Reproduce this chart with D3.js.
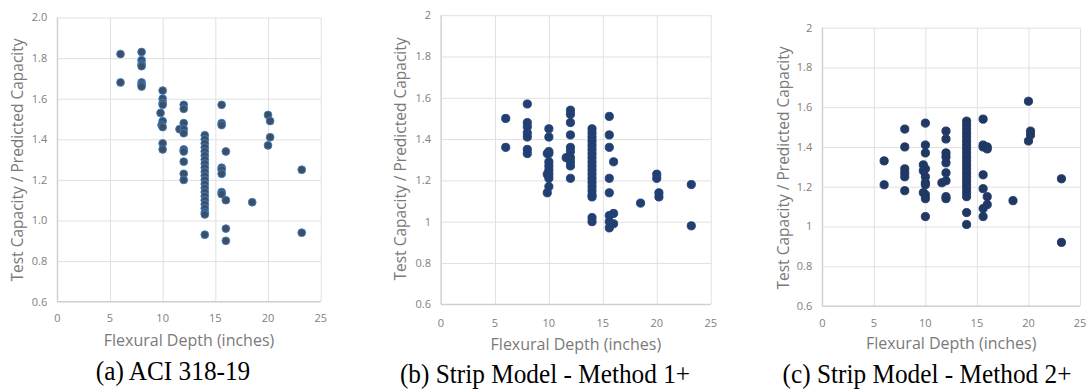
<!DOCTYPE html>
<html>
<head>
<meta charset="utf-8">
<script src="https://cdn.jsdelivr.net/npm/d3@7"></script>
<style>
  body { margin: 0; background: #fff; }
  svg { display: block; }
</style>
</head>
<body>
<div id="chart"></div>
<script>
// tick labels
const xTicks = [0, 5, 10, 15, 20, 25];
const yTicks = [0.6, 0.8, 1.0, 1.2, 1.4, 1.6, 1.8, 2.0];
const captions = ['(a) ACI 318-19', '(b) Strip Model - Method 1+', '(c) Strip Model - Method 2+'];
const xTitle = 'Flexural Depth (inches)';
const yTitle = 'Test Capacity / Predicted Capacity';

// (a) ACI 318-19
const aciDepth = [6, 6,
  8, 8, 8, 8, 8, 8, 8,
  10, 10, 10, 10, 9.8, 10, 9.9, 10, 10, 10,
  11.6,
  12, 12, 12, 12, 12, 12, 12, 12, 12, 12,
  14, 14, 14, 14, 14, 14, 14, 14, 14, 14, 14, 14, 14, 14, 14, 14, 14, 14, 14, 14, 14, 14,
  15.6, 15.6, 15.6, 15.6, 15.6, 15.6, 15.6, 15.6,
  16, 16, 16, 16,
  18.5,
  20, 20, 20.2, 20.2,
  23.2, 23.2];
const aciRatio = [1.82, 1.68,
  1.83, 1.79, 1.77, 1.76, 1.68, 1.67, 1.66,
  1.64, 1.60, 1.58, 1.57, 1.53, 1.49, 1.47, 1.46, 1.38, 1.35,
  1.45,
  1.57, 1.55, 1.48, 1.45, 1.43, 1.35, 1.34, 1.29, 1.23, 1.20,
  1.42, 1.40, 1.38, 1.36, 1.34, 1.32, 1.30, 1.28, 1.26, 1.24, 1.22, 1.20, 1.18, 1.16, 1.14, 1.12, 1.10, 1.08, 1.06, 1.04, 1.03, 0.93,
  1.57, 1.48, 1.47, 1.26, 1.25, 1.23, 1.14, 1.13,
  1.34, 1.10, 0.96, 0.90,
  1.09,
  1.52, 1.37, 1.49, 1.41,
  1.25, 0.94];

// (b) Strip Model - Method 1+
const m1Depth = [6, 6,
  8, 8, 8, 8, 8, 8, 8,
  10, 10, 10, 10, 10, 10, 10, 10, 10, 10, 9.85, 9.85, 9.85,
  11.6,
  12, 12, 12, 12, 12, 12, 12, 12, 12, 12,
  14, 14, 14, 14, 14, 14, 14, 14, 14, 14, 14, 14, 14, 14, 14, 14, 14, 14, 14, 14,
  15.6, 15.6, 15.6, 15.6, 15.6, 15.6, 15.6, 15.6,
  16, 16, 16,
  18.5,
  20, 20, 20.2, 20.2,
  23.2, 23.2];
const m1Ratio = [1.50, 1.36,
  1.57, 1.48, 1.46, 1.43, 1.41, 1.35, 1.33,
  1.45, 1.41, 1.34, 1.33, 1.29, 1.27, 1.25, 1.23, 1.21, 1.17, 1.33, 1.23, 1.14,
  1.31,
  1.54, 1.52, 1.48, 1.42, 1.36, 1.34, 1.31, 1.29, 1.27, 1.21,
  1.45, 1.43, 1.41, 1.39, 1.37, 1.35, 1.33, 1.31, 1.29, 1.27, 1.25, 1.23, 1.21, 1.19, 1.17, 1.15, 1.13, 1.12, 1.02, 1.00,
  1.51, 1.42, 1.36, 1.21, 1.14, 1.03, 1.00, 0.97,
  1.29, 1.04, 0.99,
  1.09,
  1.23, 1.21, 1.14, 1.12,
  1.18, 0.98];

// (c) Strip Model - Method 2+
const m2Depth = [6, 6,
  8, 8, 8, 8, 8, 8,
  10, 10, 10, 10, 10, 10, 10, 10, 10, 10, 9.8, 9.8, 9.8,
  11.6,
  12, 12, 12, 12, 12, 12, 12, 12, 12,
  14, 14, 14, 14, 14, 14, 14, 14, 14, 14, 14, 14, 14, 14, 14, 14, 14, 14, 14, 14, 14, 14,
  15.6, 15.6, 15.6, 15.6, 15.6, 15.6, 15.6,
  16, 16, 16, 16,
  18.5,
  20, 20, 20.2, 20.2,
  23.2, 23.2];
const m2Ratio = [1.33, 1.21,
  1.49, 1.40, 1.29, 1.27, 1.25, 1.18,
  1.52, 1.41, 1.37, 1.29, 1.25, 1.22, 1.21, 1.16, 1.14, 1.05, 1.31, 1.28, 1.17,
  1.22,
  1.48, 1.44, 1.37, 1.35, 1.32, 1.27, 1.23, 1.15, 1.14,
  1.53, 1.51, 1.49, 1.47, 1.45, 1.43, 1.41, 1.39, 1.37, 1.35, 1.33, 1.31, 1.29, 1.27, 1.25, 1.23, 1.21, 1.19, 1.17, 1.15, 1.07, 1.01,
  1.54, 1.41, 1.40, 1.26, 1.19, 1.09, 1.05,
  1.40, 1.39, 1.15, 1.11,
  1.13,
  1.63, 1.43, 1.48, 1.46,
  1.24, 0.92];

const W = 1088, H = 389;
const uiFont = '"Open Sans", "Liberation Sans", sans-serif';

const panels = [
  {depth: aciDepth, ratio: aciRatio, left: 57.3, right: 320.7, top: 17.5, bottom: 301.7,
   fmt: d3.format('.1f'), fill: '#3c4f67', stroke: '#3f7fc2', r: 3.9,
   yTitleX: 18, yTitleY: 160, xLabelY: 322, titleY: 346, capX: 173, capY: 380},
  {depth: m1Depth, ratio: m1Ratio, left: 441, right: 710.7, top: 15.2, bottom: 304.3,
   fmt: d => d3.format('~g')(d), fill: '#223f74', stroke: '#223f74', r: 4.1,
   yTitleX: 401, yTitleY: 159, xLabelY: 327, titleY: 350, capX: 545, capY: 383},
  {depth: m2Depth, ratio: m2Ratio, left: 822.3, right: 1080, top: 27.7, bottom: 306,
   fmt: d => d3.format('~g')(d), fill: '#1f3864', stroke: '#1f3864', r: 4.1,
   yTitleX: 784, yTitleY: 168, xLabelY: 327, titleY: 349, capX: 927, capY: 383}
];

const svg = d3.select('#chart').append('svg')
  .attr('width', W)
  .attr('height', H);

panels.forEach((p, i) => {
  const x = d3.scaleLinear().domain([0, 25]).range([p.left, p.right]);
  const y = d3.scaleLinear().domain([0.6, 2.0]).range([p.bottom, p.top]);
  const g = svg.append('g');

  // gridlines
  g.append('g')
    .attr('transform', `translate(0,${p.bottom})`)
    .call(d3.axisBottom(x).tickValues(xTicks).tickSize(-(p.bottom - p.top)).tickFormat(''))
    .call(a => a.select('.domain').remove())
    .call(a => a.selectAll('line').attr('stroke', '#e1e1e1'));
  g.append('g')
    .attr('transform', `translate(${p.left},0)`)
    .call(d3.axisLeft(y).tickValues(yTicks).tickSize(-(p.right - p.left)).tickFormat(''))
    .call(a => a.select('.domain').remove())
    .call(a => a.selectAll('line').attr('stroke', '#e1e1e1'));

  // axis lines
  g.append('line')
    .attr('x1', p.left).attr('x2', p.left).attr('y1', p.top).attr('y2', p.bottom)
    .attr('stroke', '#c8c8c8');
  g.append('line')
    .attr('x1', p.left).attr('x2', p.right).attr('y1', p.bottom).attr('y2', p.bottom)
    .attr('stroke', '#c8c8c8');

  // tick labels
  g.selectAll('.xl').data(xTicks).enter().append('text')
    .attr('x', d => x(d))
    .attr('y', p.xLabelY)
    .attr('text-anchor', 'middle')
    .attr('font-family', uiFont).attr('font-size', 11).attr('fill', '#808080')
    .text(d => d);
  g.selectAll('.yl').data(yTicks).enter().append('text')
    .attr('x', p.left - 10)
    .attr('y', d => y(d))
    .attr('dy', '0.35em')
    .attr('text-anchor', 'end')
    .attr('font-family', uiFont).attr('font-size', 11).attr('fill', '#808080')
    .text(d => p.fmt(d));

  // points
  g.selectAll('circle')
    .data(p.depth.map((d, k) => [d, p.ratio[k]]))
    .enter().append('circle')
    .attr('cx', d => x(d[0]))
    .attr('cy', d => y(d[1]))
    .attr('r', p.r)
    .attr('fill', p.fill)
    .attr('stroke', p.stroke)
    .attr('stroke-width', 0.9);

  // axis titles
  g.append('text')
    .attr('x', (p.left + p.right) / 2)
    .attr('y', p.titleY)
    .attr('text-anchor', 'middle')
    .attr('font-family', uiFont).attr('font-size', 16).attr('fill', '#7a7a7a')
    .text(xTitle);
  g.append('text')
    .attr('transform', `translate(${p.yTitleX},${p.yTitleY}) rotate(-90)`)
    .attr('dy', '0.35em')
    .attr('text-anchor', 'middle')
    .attr('font-family', uiFont).attr('font-size', 15.5).attr('fill', '#7a7a7a')
    .text(yTitle);

  // caption (slightly condensed serif)
  g.append('text')
    .attr('transform', `translate(${p.capX},${p.capY}) scale(0.92,1)`)
    .attr('text-anchor', 'middle')
    .attr('font-family', '"Liberation Serif", "DejaVu Serif", serif')
    .attr('font-size', 27.5)
    .attr('fill', '#000')
    .text(captions[i]);
});
</script>
</body>
</html>
